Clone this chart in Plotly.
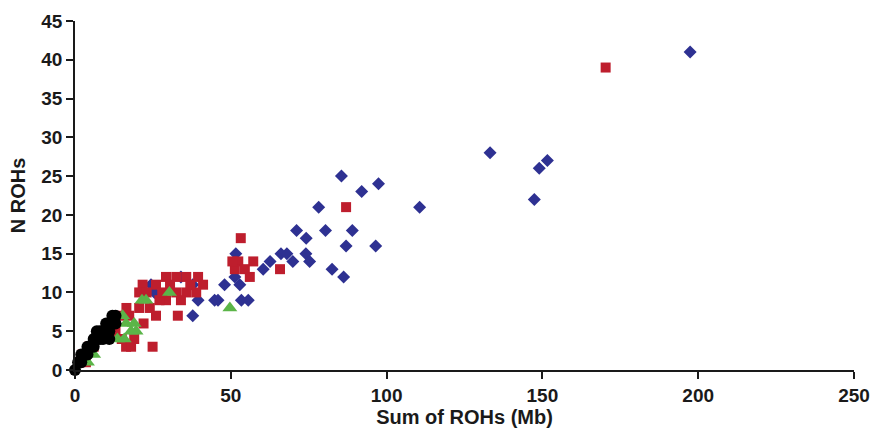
import plotly.graph_objects as go

# Blue diamonds
blue_x = [197.4, 133.2, 151.6, 149.0, 147.4, 110.6, 97.4, 96.5, 85.5, 92.0,
          78.2, 71.1, 80.4, 89.0, 74.2, 87.0, 66.1, 68.0, 74.1, 51.6,
          62.6, 69.9, 75.3, 60.4, 82.5, 86.2, 48.0, 52.9, 51.3, 45.9,
          53.4, 55.6, 24.4, 25.5, 34.0, 37.8, 39.5, 37.8, 44.8]
blue_y = [41, 28, 27, 26, 22, 21, 24, 16, 25, 23,
          21, 18, 18, 18, 17, 16, 15, 15, 15, 15,
          14, 14, 14, 13, 13, 12, 11, 11, 12, 9,
          9, 9, 11, 10, 12, 11, 9, 7, 9]

# Red squares
red_x = [170.3, 87.0, 53.2, 52.4, 57.2, 51.3, 54.5, 56.1, 65.8, 50.5,
         21.7, 26.0, 29.2, 32.5, 35.7, 39.5, 41.1, 38.9, 35.7, 32.5,
         29.2, 27.1, 24.0, 20.6, 17.4, 14.2, 11.0, 33.0, 24.9, 16.4,
         4.5, 2.4, 20.6, 23.0, 28.0, 30.5, 37.0, 34.0, 26.0, 22.0,
         19.0, 15.0, 13.0, 10.0, 8.0, 6.0, 3.5, 1.5, 18.0, 16.5]
red_y = [39, 21, 17, 14, 14, 13, 13, 12, 13, 14,
         11, 11, 12, 12, 12, 12, 11, 10, 10, 10,
         9, 9, 8, 8, 7, 7, 6, 7, 3, 3,
         3, 2, 10, 10, 10, 11, 11, 9, 7, 6,
         4, 4, 5, 5, 4, 3, 1, 1, 3, 8]

# Green triangles
green_x = [30.3, 22.8, 21.5, 15.3, 19.6, 15.8, 49.7, 16.4, 13.6, 18.0, 19.0, 4.0, 6.0]
green_y = [10, 9, 9, 7, 5, 4, 8, 6, 4, 5, 6, 1, 2]

# Black circles
black_x = [0, 1, 2, 3, 4, 4, 5, 6, 6, 7, 8, 8, 9, 10, 10, 11, 11, 12, 12, 13, 13, 9, 2, 7]
black_y = [0, 1, 1, 2, 2, 3, 3, 3, 4, 4, 4, 5, 5, 5, 6, 4, 5, 6, 7, 6, 7, 4, 2, 5]

x_ticks = [0, 50, 100, 150, 200, 250]
y_ticks = [0, 5, 10, 15, 20, 25, 30, 35, 40, 45]

fig = go.Figure()
fig.add_trace(go.Scatter(x=blue_x, y=blue_y, mode="markers", cliponaxis=False,
                         marker=dict(symbol="diamond", size=10, color="#2E3192", line=dict(width=0))))
fig.add_trace(go.Scatter(x=red_x, y=red_y, mode="markers", cliponaxis=False,
                         marker=dict(symbol="square", size=10, color="#BE1E2D", line=dict(width=0))))
fig.add_trace(go.Scatter(x=green_x, y=green_y, mode="markers", cliponaxis=False,
                         marker=dict(symbol="triangle-up", size=13, color="#5BB548", line=dict(width=0))))
fig.add_trace(go.Scatter(x=black_x, y=black_y, mode="markers", cliponaxis=False,
                         marker=dict(symbol="circle", size=12, color="#000000", line=dict(width=0))))

FAM = "Liberation Sans, Arial, sans-serif"
tick_font = dict(family=FAM, size=19, color="#1a1a1a", weight="bold")
title_font = dict(family=FAM, size=20, color="#1a1a1a")
common = dict(showgrid=False, zeroline=False, showline=True, linecolor="#1a1a1a", linewidth=1.5,
              ticks="outside", ticklen=7, tickcolor="#1a1a1a", tickwidth=1.5,
              tickfont=tick_font, automargin=False)

fig.update_layout(
    width=872, height=431,
    margin=dict(l=75, r=18, t=21, b=61),
    paper_bgcolor="white", plot_bgcolor="white",
    showlegend=False,
    xaxis=dict(range=[0, 250], tickvals=x_ticks,
               title=dict(text="<b>Sum of ROHs (Mb)</b>", standoff=5, font=title_font), **common),
    yaxis=dict(range=[0, 45], tickvals=y_ticks,
               title=dict(text="<b>N ROHs</b>", standoff=10, font=title_font), **common),
)

fig.write_html("out.html", config={"displayModeBar": False},
               post_script="document.body.style.margin='0';document.body.style.overflow='hidden';")
